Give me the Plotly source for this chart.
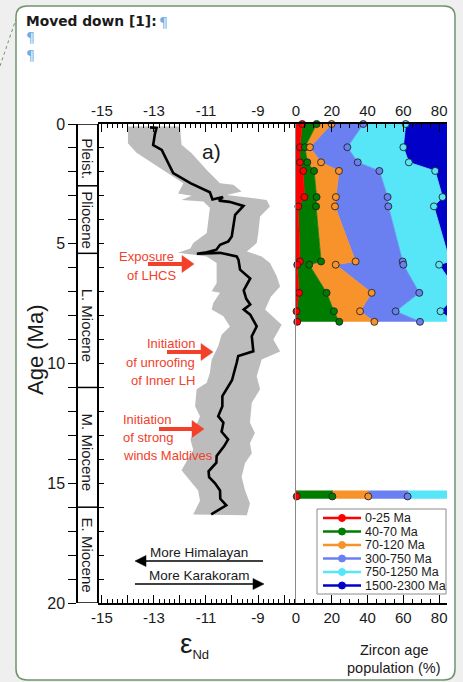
import plotly.graph_objects as go

W, H = 463, 682
def px(x): return x / W
def py(y): return 1 - y / H

# ---------------- data ----------------
# eNd record (age Ma, eNd)
nd_age = [0.14, 0.16, 0.40, 0.88, 1.08, 2.05, 2.47, 2.85, 3.15, 3.05, 3.20, 3.25, 3.42, 3.79,
          4.70, 4.90, 5.04, 5.25, 5.36, 5.42, 5.38, 5.53, 5.67, 6.08, 6.45, 6.95, 7.30, 7.54,
          7.75, 7.96, 8.45, 8.86, 9.49, 9.69, 9.97, 10.70, 11.36, 11.78, 12.20, 12.47, 12.85,
          13.17, 13.45, 13.86, 14.14, 14.50, 14.75, 15.00, 15.30, 15.65, 15.92, 16.30]
nd_eps = [-13.15, -12.90, -12.96, -13.03, -12.70, -12.26, -11.60, -10.85, -10.75, -10.35, -10.50, -10.10, -9.56, -9.88,
          -10.01, -10.14, -10.46, -10.60, -10.97, -11.35, -10.46, -9.82, -9.75, -9.69, -9.30, -9.55, -9.45, -9.30,
          -9.55, -9.30, -9.05, -9.24, -9.18, -9.76, -9.82, -10.00, -10.37, -10.37, -10.53, -10.33, -10.40,
          -10.15, -10.30, -10.59, -10.60, -10.90, -10.88, -10.65, -10.46, -10.45, -10.22, -10.80]

# uncertainty envelope: left (less radiogenic) and right edges
env_left_age = [0.10, 0.40, 0.80, 1.20, 2.47, 2.90, 3.00, 3.17, 3.24, 3.50, 4.55, 4.97, 5.20, 5.38, 5.53,
                5.80, 6.64, 6.98, 7.05, 7.47, 7.75, 8.03, 8.45, 8.80, 9.28, 9.83, 10.39, 10.80, 11.08,
                11.78, 12.20, 13.17, 13.60, 14.46, 14.90, 15.30, 15.73, 16.30]
env_left_eps = [-14.00, -14.00, -14.00, -13.67, -11.87, -12.07, -11.55, -11.94, -11.10, -10.85, -10.97, -11.49, -11.60, -12.07, -10.97,
                -10.59, -10.59, -10.78, -10.46, -10.72, -10.78, -10.33, -10.08, -10.40, -10.53, -10.78, -10.85, -10.97, -11.36,
                -11.42, -11.23, -11.60, -11.49, -11.94, -11.60, -11.30, -11.23, -11.49]
env_right_age = [0.10, 0.87, 1.22, 1.92, 2.47, 2.54, 2.82, 2.96, 3.17, 3.44, 3.86, 4.55, 4.97, 5.32, 5.53,
                 5.80, 6.36, 6.78, 7.20, 7.75, 8.38, 9.00, 9.50, 9.83, 10.53, 11.08, 11.64, 12.47, 12.90,
                 13.33, 13.75, 14.17, 14.73, 15.29, 15.85, 16.34]
env_right_eps = [-12.00, -11.94, -11.55, -10.97, -10.46, -9.95, -9.63, -10.20, -8.67, -8.54, -8.92, -8.99, -9.05, -9.43, -8.86,
                 -8.54, -8.28, -8.15, -8.50, -8.73, -8.09, -8.41, -8.15, -8.86, -9.05, -8.92, -9.24, -9.31, -9.12,
                 -9.31, -9.24, -9.50, -9.63, -9.50, -9.31, -9.43]

# zircon age populations (%) per sample
zr_age = [0.0, 0.97, 1.60, 1.96, 3.05, 3.44, 5.74, 5.875, 7.05, 7.82, 8.26]
zr_pct = {
    "0-25 Ma":      [3.5, 2.2, 2.2, 4.1, 4.7, 1.3, 2.2, 0.7, 1.7, 0.3, 0.7],
    "40-70 Ma":     [8.0, 2.8, 4.1, 6.0, 6.8, 9.9, 11.8, 6.7, 15.4, 20.9, 23.5],
    "70-120 Ma":    [8.4, 2.8, 7.7, 13.9, 10.8, 10.6, 19.3, 14.8, 25.2, 14.6, 19.6],
    "300-750 Ma":   [17.7, 20.9, 20.5, 22.6, 28.9, 29.8, 26.3, 37.8, 26.6, 19.9, 25.5],
    "750-1250 Ma":  [23.7, 31.3, 28.6, 31.2, 30.7, 25.5, 26.4, 20.0, 21.8, 25.1, 19.0],
    "1500-2300 Ma": [38.7, 40.0, 36.9, 22.2, 18.1, 22.9, 14.0, 20.0, 9.3, 19.2, 11.7],
}
# older sample (single strip)
strip_age = [15.30, 15.55, 15.65]
strip_pct = {
    "0-25 Ma": 0.4, "40-70 Ma": 19.9, "70-120 Ma": 20.1,
    "300-750 Ma": 22.0, "750-1250 Ma": 28.0, "1500-2300 Ma": 9.6,
}
pop_names = list(zr_pct.keys())
pop_colors = ["#ff0000", "#007c00", "#f8922a", "#6b80f0", "#56e6f7", "#0000c8"]

XR_MAX = 84.4

# ---------------- figure ----------------
fig = go.Figure()

fig.add_trace(go.Scatter(
    x=env_left_eps + env_right_eps[::-1], y=env_left_age + env_right_age[::-1],
    fill="toself", fillcolor="#bcbcbc", line=dict(width=0), mode="lines",
    xaxis="x", yaxis="y", hoverinfo="skip"))
fig.add_trace(go.Scatter(
    x=nd_eps, y=nd_age, mode="lines", line=dict(color="black", width=2.6),
    xaxis="x", yaxis="y"))

cum = [0.0] * len(zr_age)
for name, col in zip(pop_names, pop_colors):
    vals = zr_pct[name]
    cum = [c + v for c, v in zip(cum, vals)]
    last = name == pop_names[-1]
    op = [1 if c < XR_MAX else 0 for c in cum]
    fig.add_trace(go.Scatter(
        x=vals, y=zr_age, stackgroup="main", orientation="h",
        mode="lines" if last else "lines+markers",
        line=dict(color=col, width=0.8), fillcolor=col,
        marker=dict(size=7, color=col, opacity=op, line=dict(color="rgba(30,30,30,0.85)", width=1)),
        cliponaxis=False, xaxis="x2", yaxis="y2", name=name))

scum = 0.0
for name, col in zip(pop_names, pop_colors):
    v = strip_pct[name]
    scum += v
    last = name == pop_names[-1]
    mop = [0, 1 if scum < XR_MAX else 0, 0]
    fig.add_trace(go.Scatter(
        x=[v] * len(strip_age), y=strip_age, stackgroup="strip", orientation="h",
        mode="lines" if last else "lines+markers",
        line=dict(color=col, width=0.8), fillcolor=col,
        marker=dict(size=7, color=col, opacity=mop, line=dict(color="rgba(30,30,30,0.85)", width=1)),
        cliponaxis=False, xaxis="x2", yaxis="y2", name=name))

fig.add_trace(go.Scatter(x=[None], y=[None], xaxis="x3", yaxis="y", showlegend=False))
fig.add_trace(go.Scatter(x=[None], y=[None], xaxis="x4", yaxis="y2", showlegend=False))
fig.add_trace(go.Scatter(x=[None], y=[None], xaxis="x", yaxis="y5", showlegend=False))

FONT = "Liberation Sans, Arial, sans-serif"
Y_TOP, Y_BOT = 124, 603
ydom = [py(Y_BOT), py(Y_TOP)]

eps_ticks = list(range(-15, -7))
eps_text = [str(t) if t % 2 else " " for t in eps_ticks]
eps_minor = [round(-15.0 + 0.2 * i, 2) for i in range(0, 38)]
eps_minor = [v for v in eps_minor if abs(v - round(v)) > 1e-6]

common_x = dict(showgrid=False, zeroline=False, showline=True, linecolor="black", linewidth=1.5,
                ticks="inside", tickcolor="black", tickwidth=1, ticklen=8, automargin=False,
                tickfont=dict(size=15, family=FONT, color="#1a1a1a"))
xa = dict(common_x, domain=[px(98), px(296)], range=[-15.15, -7.54], tickmode="array",
          tickvals=eps_ticks, ticktext=eps_text,
          minor=dict(tickmode="array", tickvals=eps_minor, ticks="inside", ticklen=4, tickcolor="black"))
xb = dict(common_x, domain=[px(296), px(447)], range=[0, XR_MAX], tickmode="linear", tick0=0, dtick=20,
          minor=dict(tickmode="linear", tick0=0, dtick=5, ticks="inside", ticklen=4, tickcolor="black"))

fig.update_layout(
    width=W, height=H, margin=dict(l=0, r=0, t=0, b=0, pad=0, autoexpand=False),
    paper_bgcolor="#efefef", plot_bgcolor="rgba(0,0,0,0)", showlegend=False,
    font=dict(family=FONT, color="#1a1a1a", size=15),
    xaxis=dict(xa, anchor="y", side="bottom"),
    xaxis3=dict(xa, anchor="y", side="top", overlaying="x"),
    xaxis2=dict(xb, anchor="y2", side="bottom"),
    xaxis4=dict(xb, anchor="y2", side="top", overlaying="x2"),
    yaxis=dict(domain=ydom, range=[20, 0], anchor="free", position=px(77), side="left",
               tickmode="array", tickvals=list(range(0, 21)),
               ticktext=[str(t) if t % 5 == 0 else " " for t in range(0, 21)],
               ticks="outside", ticklen=8, tickwidth=1, tickcolor="black", automargin=False,
               showline=True, linecolor="black", linewidth=1.5, showgrid=False, zeroline=False,
               tickfont=dict(size=16, family=FONT, color="#1a1a1a")),
    yaxis5=dict(domain=ydom, range=[20, 0], anchor="free", position=px(98), side="left",
                overlaying="y", tickmode="array", tickvals=list(range(0, 21)), showticklabels=False,
                ticks="inside", ticklen=5, tickcolor="black", showline=True, linecolor="black",
                linewidth=1.5, showgrid=False, zeroline=False, automargin=False),
    yaxis2=dict(domain=ydom, range=[20, 0], anchor="x2", showline=True, linecolor="#888888",
                linewidth=1, ticks="", showticklabels=False, showgrid=False, zeroline=False,
                automargin=False),
)

shapes = []
x0, x1, y0, y1, r = 16, 455, 6, 680, 11
def P(x, y): return f"{px(x):.5f},{py(y):.5f}"
path = (f"M {P(x0+r,y0)} L {P(x1-r,y0)} Q {P(x1,y0)} {P(x1,y0+r)} L {P(x1,y1-r)} "
        f"Q {P(x1,y1)} {P(x1-r,y1)} L {P(x0+r,y1)} Q {P(x0,y1)} {P(x0,y1-r)} "
        f"L {P(x0,y0+r)} Q {P(x0,y0)} {P(x0+r,y0)} Z")
shapes.append(dict(type="path", path=path, xref="paper", yref="paper", fillcolor="white",
                   line=dict(color="#6f9470", width=1.5), layer="below"))
shapes.append(dict(type="line", xref="paper", yref="paper", x0=px(0), y0=py(66), x1=px(16), y1=py(19),
                   line=dict(color="#6f9470", width=1, dash="dot"), layer="below"))
shapes.append(dict(type="rect", xref="paper", yref="y", x0=px(77), x1=px(98), y0=0, y1=20,
                   line=dict(color="black", width=1.5)))
epoch_bounds = [2.58, 5.4, 11.0, 16.0]
for b in epoch_bounds:
    shapes.append(dict(type="line", xref="paper", yref="y", x0=px(77), x1=px(98), y0=b, y1=b,
                       line=dict(color="black", width=1.5)))
shapes.append(dict(type="rect", xref="paper", yref="paper", x0=px(317), x1=px(446), y0=py(594), y1=py(509),
                   line=dict(color="#8a8a8a", width=1), fillcolor="white"))
annotations = []
for i, (name, col) in enumerate(zip(pop_names, pop_colors)):
    yy = 518 + 13.5 * i
    shapes.append(dict(type="line", xref="paper", yref="paper", x0=px(323), x1=px(361), y0=py(yy), y1=py(yy),
                       line=dict(color=col, width=2.5)))
    shapes.append(dict(type="circle", xref="paper", yref="paper", x0=px(338.5), x1=px(345.5),
                       y0=py(yy + 3.5), y1=py(yy - 3.5), fillcolor=col, line=dict(color=col, width=1)))
    annotations.append(dict(x=px(363), y=py(yy), xref="paper", yref="paper", text=name, showarrow=False,
                            xanchor="left", yanchor="middle", font=dict(size=12.5, family=FONT, color="#1a1a1a")))

epochs = [("Pleist.", 1.45), ("Pliocene", 4.0), ("L. Miocene", 8.4), ("M. Miocene", 13.7), ("E. Miocene", 18.0)]
for lab, a in epochs:
    annotations.append(dict(x=px(87.5), y=a, xref="paper", yref="y", text=lab, textangle=90, showarrow=False,
                            xanchor="center", yanchor="middle", font=dict(size=15, family=FONT, color="#1a1a1a")))

def txt(x, y, s, size=13, color="#1a1a1a", xanchor="center", family=FONT, angle=0):
    annotations.append(dict(x=px(x), y=py(y), xref="paper", yref="paper", text=s, showarrow=False,
                            xanchor=xanchor, yanchor="middle", textangle=angle,
                            font=dict(size=size, family=family, color=color)))

RED = "#f2402b"
txt(24, 21, "<b>Moved down [1]:</b>", size=13.8, family="DejaVu Sans, Verdana, sans-serif", xanchor="left")
txt(157, 22, "¶", size=14, color="#71aee6", family="DejaVu Sans, sans-serif", xanchor="left")
txt(24, 37, "¶", size=14, color="#71aee6", family="DejaVu Sans, sans-serif", xanchor="left")
txt(24, 55, "¶", size=14, color="#71aee6", family="DejaVu Sans, sans-serif", xanchor="left")
txt(211, 151, "a)", size=21)
txt(35, 350, "Age (Ma)", size=22, angle=-90)
txt(176, 256, "Exposure", color=RED, xanchor="right")
txt(178, 275, "of LHCS", color=RED, xanchor="right")
txt(197, 343, "Initiation", color=RED, xanchor="right")
txt(197, 362, "of unroofing", color=RED, xanchor="right")
txt(197, 381, "of Inner LH", color=RED, xanchor="right")
txt(121, 419, "Initiation", color=RED, xanchor="left")
txt(121, 437, "of strong", color=RED, xanchor="left")
txt(121, 455, "winds Maldives", color=RED, xanchor="left")
txt(199, 552, "More Himalayan", size=13.5)
txt(199, 575, "More Karakoram", size=13.5)
txt(394, 650, "Zircon age", size=14.5)
txt(394, 668, "population (%)", size=14.5)
annotations.append(dict(x=px(178), y=py(645), xref="paper", yref="paper", showarrow=False,
                        text="ε<sub><span style='font-size:13px'>Nd</span></sub>",
                        xanchor="left", yanchor="middle", font=dict(size=28, family=FONT, color="#1a1a1a")))

def arrow(xt, yt, xs, color, width, hl, hh):
    d = 1 if xt > xs else -1
    shapes.append(dict(type="line", xref="paper", yref="paper", x0=px(xs), x1=px(xt - d * hl * 0.8),
                       y0=py(yt), y1=py(yt), line=dict(color=color, width=width)))
    hp = f"M {P(xt, yt)} L {P(xt - d*hl, yt - hh/2)} L {P(xt - d*hl, yt + hh/2)} Z"
    shapes.append(dict(type="path", path=hp, xref="paper", yref="paper", fillcolor=color,
                       line=dict(color=color, width=0.5)))

arrow(194, 264, 148, RED, 4, 12, 17)
arrow(213, 352, 167, RED, 4, 12, 17)
arrow(204, 429, 159, RED, 4, 12, 17)
arrow(135, 561, 263, "black", 1.6, 11, 11)
arrow(264, 584, 135, "black", 1.6, 11, 11)

fig.update_layout(shapes=shapes, annotations=annotations)
fig.write_html("out.html", config={"displayModeBar": False},
               post_script="document.body.style.margin='0';document.body.style.overflow='hidden';")
